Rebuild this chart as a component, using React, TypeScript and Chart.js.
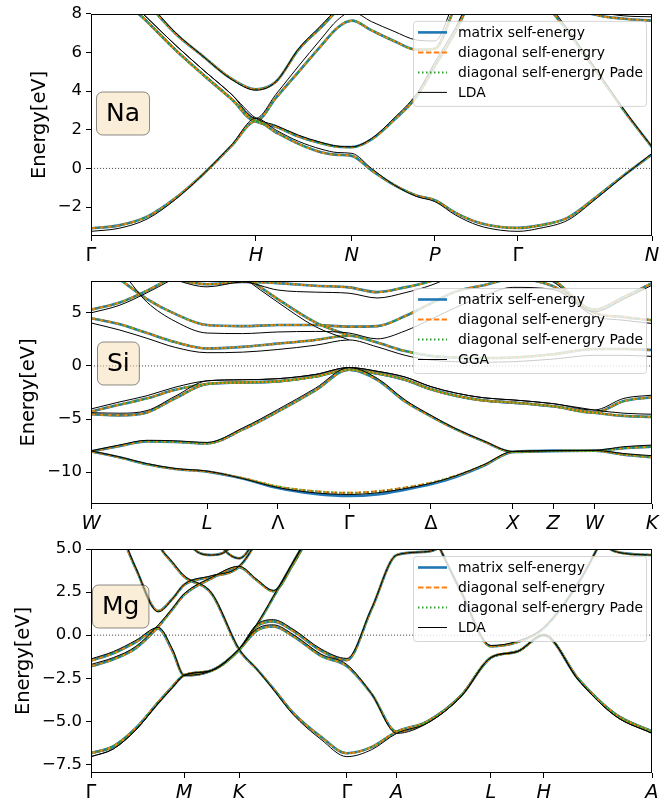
import React, { useEffect, useRef } from "react";
import { Chart, registerables } from "chart.js";

Chart.register(...registerables);

const FONT = "'DejaVu Sans', sans-serif";

// ================= Na =================
const NA_K = [0, 0.05, 0.1, 0.15, 0.2, 0.25, 0.294, 0.33, 0.37, 0.41, 0.44, 0.465, 0.5, 0.54, 0.58, 0.613, 0.65, 0.69, 0.73, 0.761, 0.8, 0.85, 0.9, 0.95, 1];
const NA_TICK_POS = [0, 0.294, 0.465, 0.613, 0.761, 1];
const NA_TICK_LABELS = ["Γ", "H", "N", "P", "Γ", "N"];
const NA_Y_TICKS = [-2, 0, 2, 4, 6, 8];

const NA_GW_1 = [-3.1, -2.95, -2.5, -1.55, -0.3, 1.15, 2.45, 1.86, 1.27, 0.84, 0.7, 0.65, -0.1, -0.85, -1.4, -1.64, -2.3, -2.8, -3.03, -3.08, -2.95, -2.55, -1.5, -0.35, 0.72];
const NA_LDA_1 = [-3.26, -3.1, -2.62, -1.62, -0.3, 1.2, 2.6, 1.98, 1.4, 1.0, 0.82, 0.78, 0.0, -0.85, -1.45, -1.72, -2.42, -2.95, -3.2, -3.26, -3.1, -2.68, -1.58, -0.38, 0.78];
const NA_GW_2 = [11, 9.0, 7.6, 6.15, 4.85, 3.6, 2.45, 2.15, 1.65, 1.3, 1.12, 1.1, 1.5, 2.5, 3.7, 5.3, 7.1, 9.5, 11, 12, 9.1, 7.1, 5.07, 3.0, 1.1];
const NA_LDA_2 = [11, 9.2, 7.8, 6.4, 5.1, 3.85, 2.6, 2.22, 1.72, 1.35, 1.15, 1.12, 1.55, 2.6, 3.85, 5.5, 7.3, 9.7, 11, 12, 9.3, 7.2, 5.15, 3.05, 1.12];
const NA_GW_3 = [12, 10.5, 8.6, 7.0, 5.8, 4.65, 4.1, 4.5, 6.15, 7.3, 8.2, 8.8, 9.5, 10, 10.5, 11, 11.5, 12, 12, 12, 12, 12, 12, 12, 12];
const NA_LDA_3 = [12, 10.6, 8.7, 7.05, 5.8, 4.62, 4.05, 4.5, 6.2, 7.4, 8.3, 8.9, 9.5, 10, 10.5, 11, 11.5, 12, 12, 12, 12, 12, 12, 12, 12];
const NA_GW_4 = [11, 9.0, 7.6, 6.15, 4.85, 3.6, 2.45, 3.67, 5.0, 6.35, 7.3, 7.65, 7.15, 6.6, 6.15, 6.2, 8.4, 10, 11, 12, 12, 12, 12, 12, 12];
const NA_LDA_4 = [11, 9.2, 7.8, 6.4, 5.1, 3.85, 2.6, 3.85, 5.3, 6.7, 7.7, 8.1, 7.6, 7.1, 6.65, 6.6, 8.8, 10.5, 11, 12, 12, 12, 12, 12, 12];
const NA_GW_5 = [12, 12, 12, 12, 12, 12, 12, 12, 12, 12, 12, 12, 12, 12, 12, 12, 12, 12, 12, 12, 12, 8.6, 7.95, 7.75, 7.65];
const NA_LDA_5 = [12, 12, 12, 12, 12, 12, 12, 12, 12, 12, 12, 12, 12, 12, 12, 12, 12, 12, 12, 12, 12, 8.8, 8.15, 7.9, 7.85];

// ================= Si =================
const SI_K = [0, 0.05, 0.1, 0.15, 0.207, 0.27, 0.333, 0.4, 0.46, 0.51, 0.56, 0.606, 0.65, 0.7, 0.752, 0.824, 0.897, 0.95, 1];
const SI_TICK_POS = [0, 0.207, 0.333, 0.46, 0.606, 0.752, 0.824, 0.897, 1];
const SI_TICK_LABELS = ["W", "L", "Λ", "Γ", "Δ", "X", "Z", "W", "K"];
const SI_Y_TICKS = [-10, -5, 0, 5];

const SI_GW_V1 = [-8.05, -8.6, -9.25, -9.7, -9.95, -10.55, -11.35, -11.8, -11.95, -11.8, -11.45, -11.0, -10.35, -9.35, -8.1, -8.0, -7.98, -8.35, -8.6];
const SI_MAT_V1 = [-8.05, -8.6, -9.25, -9.7, -9.95, -10.6, -11.5, -12.05, -12.25, -12.1, -11.65, -11.15, -10.45, -9.4, -8.1, -8.0, -7.98, -8.35, -8.6];
const SI_LDA_V1 = [-8.0, -8.55, -9.2, -9.65, -9.9, -10.6, -11.45, -11.95, -12.1, -11.95, -11.55, -11.05, -10.35, -9.3, -8.05, -7.98, -7.95, -8.25, -8.45];
const SI_GW_V2 = [-8.05, -7.55, -7.1, -7.15, -7.3, -6.0, -4.3, -2.3, -0.35, -1.3, -3.35, -4.75, -5.95, -7.1, -8.1, -8.0, -7.98, -7.75, -7.6];
const SI_LDA_V2 = [-8.0, -7.45, -7.0, -7.05, -7.2, -5.85, -4.1, -2.1, -0.15, -1.15, -3.2, -4.65, -5.9, -7.05, -8.05, -7.98, -7.95, -7.6, -7.45];
const SI_GW_V3 = [-4.55, -4.65, -4.38, -3.05, -1.7, -1.55, -1.45, -1.0, -0.35, -0.7, -1.3, -2.2, -2.8, -3.25, -3.45, -3.8, -4.4, -4.7, -4.8];
const SI_LDA_V3 = [-4.4, -4.45, -4.2, -2.85, -1.4, -1.3, -1.2, -0.8, -0.15, -0.5, -1.05, -1.95, -2.55, -3.0, -3.2, -3.55, -4.15, -4.45, -4.55];
const SI_GW_V4 = [-4.3, -3.66, -3.05, -2.25, -1.7, -1.55, -1.45, -1.0, -0.35, -0.7, -1.3, -2.2, -2.8, -3.25, -3.45, -3.8, -4.4, -3.3, -2.95];
const SI_LDA_V4 = [-4.05, -3.4, -2.8, -2.0, -1.4, -1.3, -1.2, -0.8, -0.15, -0.5, -1.05, -1.95, -2.55, -3.0, -3.2, -3.55, -4.15, -3.05, -2.75];
const SI_GW_C1 = [4.5, 3.95, 3.1, 2.25, 1.65, 1.8, 2.1, 2.45, 2.85, 2.2, 1.4, 0.95, 0.8, 0.75, 0.8, 1.1, 1.6, 1.6, 1.5];
const SI_LDA_C1 = [4.05, 3.4, 2.6, 1.75, 1.25, 1.3, 1.55, 1.95, 2.45, 1.8, 1.0, 0.55, 0.4, 0.35, 0.4, 0.65, 1.0, 1.0, 0.9];
const SI_GW_C2 = [10, 8.2, 6.3, 4.9, 3.85, 3.75, 3.85, 3.85, 3.7, 3.75, 4.7, 5.9, 7.0, 7.6, 8.2, 7.5, 5.0, 4.6, 4.3];
const SI_LDA_C2 = [10, 9.0, 6.0, 4.2, 3.1, 3.05, 3.2, 3.25, 3.1, 2.55, 3.3, 4.4, 5.5, 6.6, 7.4, 7.2, 4.7, 4.3, 4.0];
const SI_GW_C3 = [5.3, 5.95, 7.1, 8.5, 10, 10, 10, 10, 10, 10, 10, 10, 10, 10, 9.5, 8.1, 5.3, 6.5, 7.8];
const SI_LDA_C3 = [5.0, 5.7, 6.9, 8.3, 10, 10, 10, 10, 10, 10, 10, 10, 10, 10, 9.3, 7.9, 5.1, 6.3, 7.6];
const SI_GW_C4 = [null, null, null, null, 11, 8.6, 6.3, 4.1, 2.85, null, null, null, null, null, null, null, null, null, null];
const SI_LDA_C4 = [null, null, null, null, 11, 8.4, 6.0, 3.7, 2.45, null, null, null, null, null, null, null, null, null, null];
const SI_GW_C5 = [10, 10, 9, 8.2, 7.7, 7.9, 7.8, 7.55, 7.4, 6.95, 7.4, 8.0, 9, 10, 10, 10, 10, 10, 10];
const SI_LDA_C5 = [10, 10, 9, 8.1, 7.45, 7.9, 7.15, 6.95, 6.85, 6.4, 6.9, 7.6, 8.6, 10, 10, 10, 10, 10, 10];

// ================= Mg =================
const MG_K = [0, 0.04, 0.08, 0.12, 0.145, 0.166, 0.215, 0.264, 0.295, 0.325, 0.36, 0.41, 0.456, 0.5, 0.545, 0.6, 0.66, 0.713, 0.76, 0.807, 0.87, 0.935, 1];
const MG_TICK_POS = [0, 0.166, 0.264, 0.456, 0.545, 0.713, 0.807, 1];
const MG_TICK_LABELS = ["Γ", "M", "K", "Γ", "A", "L", "H", "A"];
const MG_Y_TICKS = [-7.5, -5, -2.5, 0, 2.5, 5];

const MG_GW_1 = [-6.85, -6.45, -5.4, -3.9, -3.0, -2.33, -2.05, -0.85, 0.5, 0.8, 0.25, -0.9, -1.45, 1.5, 4.65, 4.85, 6, 8, 8, 8, 8, 8, 8];
const MG_LDA_1 = [-7.05, -6.6, -5.5, -3.95, -3.05, -2.33, -2.05, -0.8, 0.6, 0.9, 0.35, -0.8, -1.35, 1.55, 4.65, 4.85, 6, 8, 8, 8, 8, 8, 8];
const MG_GW_2 = [10, 10, 9, 5.3, 4.2, 3.4, 2.4, -0.85, -1.95, -3.1, -4.5, -5.9, -6.85, -6.5, -5.6, -5.0, -3.5, -1.3, -0.95, 0.0, -2.6, -4.6, -5.6];
const MG_LDA_2 = [10, 10, 9, 5.3, 4.25, 3.45, 2.45, -0.8, -1.95, -3.15, -4.6, -6.05, -7.05, -6.65, -5.7, -5.1, -3.55, -1.3, -0.95, 0.02, -2.65, -4.7, -5.7];
const MG_GW_3 = [-1.48, -1.05, -0.4, 0.38, -0.9, -2.33, -2.05, -0.85, 0.55, 2.2, 4.2, 7, 9, 10, 10, 10, 10, 10, 10, 10, 10, 10, 10];
const MG_LDA_3 = [-1.38, -0.95, -0.3, 0.45, -0.8, -2.33, -2.05, -0.8, 0.6, 2.25, 4.25, 7, 9, 10, 10, 10, 10, 10, 10, 10, 10, 10, 10];
const MG_GW_4 = [-1.81, -1.4, -0.75, 0.5, 1.5, 2.34, 3.3, 3.95, 3.2, 2.55, 4.1, 7, 9, 10, 10, 10, 10, 10, 10, 10, 10, 10, 10];
const MG_LDA_4 = [-1.7, -1.3, -0.65, 0.6, 1.55, 2.4, 3.35, 4.0, 3.25, 2.6, 4.2, 7, 9, 10, 10, 10, 10, 10, 10, 10, 10, 10, 10];
const MG_GW_5 = [9, 6.9, 3.85, 1.4, 2.1, 2.92, 3.4, 3.97, 5.5, 8, 10, 10, 10, 10, 10, 10, 10, 10, 10, 10, 10, 10, 10];
const MG_LDA_5 = [9, 7.0, 3.9, 1.35, 2.1, 2.95, 3.45, 4.0, 5.5, 8, 10, 10, 10, 10, 10, 10, 10, 10, 10, 10, 10, 10, 10];
const MG_GW_6 = [-6.85, -6.45, -5.4, -3.9, -3.0, -2.33, -2.05, -0.85, 0.25, 0.5, -0.05, -1.2, -1.8, -3.4, -5.6, -5.0, -3.5, -1.3, -0.95, 0.0, -2.6, -4.6, -5.6];
const MG_LDA_6 = [-7.05, -6.6, -5.5, -3.95, -3.05, -2.33, -2.05, -0.8, 0.35, 0.6, 0.05, -1.1, -1.7, -3.4, -5.7, -5.1, -3.55, -1.3, -0.95, 0.02, -2.65, -4.7, -5.7];
const MG_GW_7 = [10, 10, 10, 10, 10, 6, 4.65, 6, 10, 10, 10, 10, 10, 10, 10, 10, 10, 10, 10, 10, 10, 10, 10];
const MG_GW_8 = [10, 10, 10, 10, 10, 10, 6, 4.46, 6, 10, 10, 10, 10, 10, 10, 10, 10, 10, 10, 10, 10, 10, 10];
const MG_GW_9 = [10, 10, 10, 10, 10, 10, 10, 10, 10, 10, 10, 10, 10, 10, 10, 6.5, 2.5, -0.65, -0.4, 0.4, 3.1, 7, 10];
const MG_LDA_9 = [10, 10, 10, 10, 10, 10, 10, 10, 10, 10, 10, 10, 10, 10, 10, 6.5, 2.5, -0.6, -0.35, 0.45, 3.1, 7, 10];
const MG_GW_10 = [10, 10, 10, 10, 10, 10, 10, 10, 10, 10, 10, 10, 10, 10, 10, 10, 10, 10, 10, 10, 7, 4.85, 4.65];

const LEGEND_LABELS = ["matrix self-energy", "diagonal self-energry", "diagonal self-energry Pade"];

const PANELS = [
  {
    key: "na", label: "Na", refName: "LDA",
    k: NA_K, tickPos: NA_TICK_POS, tickLabels: NA_TICK_LABELS, yTicks: NA_Y_TICKS,
    yMin: -3.5, yMax: 8, yDec: 0,
    mat: [NA_GW_1, NA_GW_2, NA_GW_3, NA_GW_4, NA_GW_5],
    gw: [NA_GW_1, NA_GW_2, NA_GW_3, NA_GW_4, NA_GW_5],
    lda: [NA_LDA_1, NA_LDA_2, NA_LDA_3, NA_LDA_4, NA_LDA_5],
    top: 0, padTop: 12, xAxisH: 31, titleCx: 40, boxX: 106, boxCy: 113.5,
  },
  {
    key: "si", label: "Si", refName: "GGA",
    k: SI_K, tickPos: SI_TICK_POS, tickLabels: SI_TICK_LABELS, yTicks: SI_Y_TICKS,
    yMin: -13, yMax: 8, yDec: 0,
    mat: [SI_MAT_V1, SI_GW_V2, SI_GW_V3, SI_GW_V4, SI_GW_C1, SI_GW_C2, SI_GW_C3, SI_GW_C4, SI_GW_C5],
    gw: [SI_GW_V1, SI_GW_V2, SI_GW_V3, SI_GW_V4, SI_GW_C1, SI_GW_C2, SI_GW_C3, SI_GW_C4, SI_GW_C5],
    lda: [SI_LDA_V1, SI_LDA_V2, SI_LDA_V3, SI_LDA_V4, SI_LDA_C1, SI_LDA_C2, SI_LDA_C3, SI_LDA_C4, SI_LDA_C5],
    top: 267, padTop: 14, xAxisH: 30, titleCx: 28.5, boxX: 107, boxCy: 96.5,
  },
  {
    key: "mg", label: "Mg", refName: "LDA",
    k: MG_K, tickPos: MG_TICK_POS, tickLabels: MG_TICK_LABELS, yTicks: MG_Y_TICKS,
    yMin: -8, yMax: 5, yDec: 1,
    mat: [MG_GW_1, MG_GW_2, MG_GW_3, MG_GW_4, MG_GW_5, MG_GW_6, MG_GW_7, MG_GW_8, MG_GW_9, MG_GW_10],
    gw: [MG_GW_1, MG_GW_2, MG_GW_3, MG_GW_4, MG_GW_5, MG_GW_6, MG_GW_7, MG_GW_8, MG_GW_9, MG_GW_10],
    lda: [MG_LDA_1, MG_LDA_2, MG_LDA_3, MG_LDA_4, MG_LDA_5, MG_LDA_6, MG_GW_7, MG_GW_8, MG_LDA_9, MG_GW_10],
    top: 534, padTop: 15, xAxisH: 28, titleCx: 23.5, boxX: 102, boxCy: 72.5,
  },
];

const GREEK = new Set(["Γ", "Λ", "Δ"]);

function roundRectPath(ctx: CanvasRenderingContext2D, x: number, y: number, w: number, h: number, r: number) {
  ctx.beginPath();
  ctx.moveTo(x + r, y);
  ctx.lineTo(x + w - r, y);
  ctx.arcTo(x + w, y, x + w, y + r, r);
  ctx.lineTo(x + w, y + h - r);
  ctx.arcTo(x + w, y + h, x + w - r, y + h, r);
  ctx.lineTo(x + r, y + h);
  ctx.arcTo(x, y + h, x, y + h - r, r);
  ctx.lineTo(x, y + r);
  ctx.arcTo(x, y, x + r, y, r);
  ctx.closePath();
}

function makeDecor(p: any) {
  return {
    id: "decor_" + p.key,
    afterDatasetsDraw(chart: any) {
      const ctx: CanvasRenderingContext2D = chart.ctx;
      const a = chart.chartArea;
      ctx.save();
      // axes frame
      ctx.strokeStyle = "#000";
      ctx.lineWidth = 1;
      ctx.setLineDash([]);
      ctx.strokeRect(Math.round(a.left) + 0.5, Math.round(a.top) + 0.5, Math.round(a.right - a.left) - 1, Math.round(a.bottom - a.top) - 1);

      // material label box
      ctx.font = `25px ${FONT}`;
      const tw = ctx.measureText(p.label).width;
      const bx = p.boxX - 9.5;
      const by = p.boxCy - 21.5;
      roundRectPath(ctx, bx, by, tw + 19, 43, 6);
      ctx.fillStyle = "rgba(245,222,179,0.5)";
      ctx.fill();
      ctx.strokeStyle = "rgba(0,0,0,0.45)";
      ctx.lineWidth = 1;
      ctx.stroke();
      ctx.fillStyle = "#000";
      ctx.textBaseline = "middle";
      ctx.textAlign = "left";
      ctx.fillText(p.label, p.boxX, p.boxCy + 1);

      // legend
      const lw = 233, lh = 85;
      const lx = a.right - 6 - lw;
      const ly = a.top + 7;
      roundRectPath(ctx, lx + 0.5, ly + 0.5, lw, lh, 3);
      ctx.fillStyle = "rgba(255,255,255,0.8)";
      ctx.fill();
      ctx.strokeStyle = "rgba(204,204,204,0.8)";
      ctx.stroke();
      const labels = [...LEGEND_LABELS, p.refName];
      const styles = [
        { c: "#1f77b4", w: 2.6, d: [] },
        { c: "#ff7f0e", w: 2.0, d: [5.5, 2.4] },
        { c: "#2ca02c", w: 2.0, d: [1.5, 2.5] },
        { c: "#000000", w: 1.0, d: [] },
      ];
      ctx.font = `13.9px ${FONT}`;
      labels.forEach((t, i) => {
        const yy = ly + 11.5 + 20 * i;
        const s = styles[i];
        ctx.beginPath();
        ctx.strokeStyle = s.c;
        ctx.lineWidth = s.w;
        ctx.setLineDash(s.d);
        ctx.moveTo(lx + 5, yy);
        ctx.lineTo(lx + 34, yy);
        ctx.stroke();
        ctx.setLineDash([]);
        ctx.fillStyle = "#000";
        ctx.fillText(t, lx + 45, yy + 0.5);
      });
      ctx.restore();
    },
  };
}

function buildDatasets(p: any) {
  const pts = (arr: any[]) => p.k.map((x: number, i: number) => ({ x, y: arr[i] }));
  const base = {
    pointRadius: 0,
    fill: false,
    cubicInterpolationMode: "monotone",
    spanGaps: false,
    clip: 0,
    borderCapStyle: "butt",
  };
  const ds: any[] = [];
  ds.push({
    ...base,
    data: [{ x: p.k[0], y: 0 }, { x: p.k[p.k.length - 1], y: 0 }],
    borderColor: "rgba(0,0,0,0.9)",
    borderWidth: 0.8,
    borderDash: [1.1, 1.9],
    order: 10,
  });
  p.mat.forEach((b: any[]) => ds.push({ ...base, data: pts(b), borderColor: "#1f77b4", borderWidth: 2.6, order: 4 }));
  p.gw.forEach((b: any[]) => ds.push({ ...base, data: pts(b), borderColor: "#ff7f0e", borderWidth: 2.0, borderDash: [5.5, 2.4], order: 3 }));
  p.gw.forEach((b: any[]) => ds.push({ ...base, data: pts(b), borderColor: "#2ca02c", borderWidth: 2.0, borderDash: [1.5, 2.5], order: 2 }));
  p.lda.forEach((b: any[]) => ds.push({ ...base, data: pts(b), borderColor: "#000000", borderWidth: 1.0, order: 1 }));
  return ds;
}

function fmtY(v: number, dec: number) {
  const s = Math.abs(v).toFixed(dec);
  return v < 0 ? "\u2212" + s : s;
}

function Panel({ p }: { p: any }) {
  const ref = useRef<HTMLCanvasElement>(null);
  useEffect(() => {
    const canvas = ref.current;
    if (!canvas) return;
    const chart = new Chart(canvas, {
      type: "line",
      data: { datasets: buildDatasets(p) },
      options: {
        animation: false,
        responsive: false,
        devicePixelRatio: 1,
        events: [],
        layout: { padding: { left: 0, right: 15, top: p.padTop, bottom: 0 } },
        plugins: { legend: { display: false }, tooltip: { enabled: false } },
        scales: {
          x: {
            type: "linear",
            min: 0,
            max: 1,
            afterBuildTicks: (s: any) => {
              s.ticks = p.tickPos.map((v: number) => ({ value: v }));
            },
            afterFit: (s: any) => {
              s.height = p.xAxisH;
            },
            ticks: {
              autoSkip: false,
              maxRotation: 0,
              minRotation: 0,
              padding: 3,
              color: "#000",
              font: (c: any) => ({
                family: FONT,
                size: 19.4,
                style: GREEK.has(p.tickLabels[c.index]) ? "normal" : "italic",
              }),
              callback: (_v: any, i: number) => p.tickLabels[i],
            },
            grid: { drawOnChartArea: false, drawTicks: true, tickLength: 5, color: "#000", tickColor: "#000", tickWidth: 1 },
            border: { display: false },
          },
          y: {
            type: "linear",
            min: p.yMin,
            max: p.yMax,
            afterBuildTicks: (s: any) => {
              s.ticks = p.yTicks.map((v: number) => ({ value: v }));
            },
            afterFit: (s: any) => {
              s.width = 91;
            },
            ticks: {
              padding: 4,
              color: "#000",
              font: { family: FONT, size: 16.5 },
              callback: (v: any) => fmtY(Number(v), p.yDec),
            },
            grid: { drawOnChartArea: false, drawTicks: true, tickLength: 5, color: "#000", tickColor: "#000", tickWidth: 1 },
            border: { display: false },
            title: {
              display: true,
              text: "Energy[eV]",
              color: "#000",
              font: { family: FONT, size: 19.4 },
              padding: { top: p.titleCx - 11.6, bottom: 0 },
            },
          },
        },
      },
      plugins: [makeDecor(p)],
    } as any);
    return () => chart.destroy();
  }, []);
  return (
    <canvas
      ref={ref}
      width={667}
      height={267}
      style={{ position: "absolute", left: 0, top: p.top, width: 667, height: 267 }}
    />
  );
}

export default function App() {
  return (
    <div style={{ position: "absolute", left: 0, top: 0, width: 667, height: 801, background: "#fff" }}>
      {PANELS.map((p) => (
        <Panel key={p.key} p={p} />
      ))}
    </div>
  );
}
